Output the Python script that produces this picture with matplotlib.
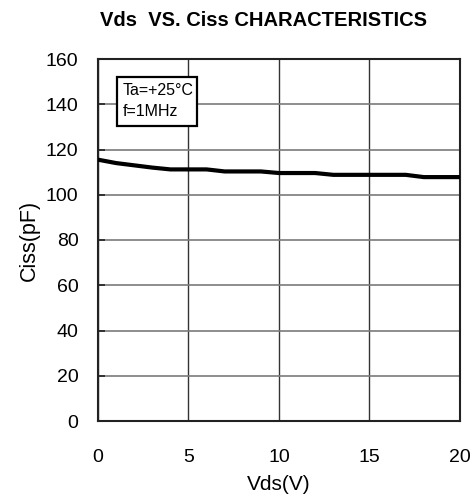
import matplotlib
matplotlib.use("Agg")
import matplotlib.pyplot as plt
from matplotlib.patches import Rectangle

# Ciss vs Vds
vds = [0, 1, 2, 3, 4, 5, 6, 7, 8, 9, 10, 11, 12, 13, 14, 15, 16, 17, 18, 19, 20]
ciss = [115.5, 114.0, 113.0, 112.0, 111.2, 111.2, 111.2, 110.3, 110.3, 110.3,
        109.6, 109.6, 109.6, 108.8, 108.8, 108.8, 108.8, 108.8, 107.8, 107.8, 107.8]

x_ticks = [0, 5, 10, 15, 20]
y_ticks = [0, 20, 40, 60, 80, 100, 120, 140, 160]

plt.rcParams["font.family"] = ["Liberation Sans", "DejaVu Sans"]

fig = plt.figure(figsize=(4.77, 4.97), dpi=100)
ax = fig.add_axes([98 / 477, 1 - 421 / 497, 362 / 477, 362 / 497])

ax.plot(vds, ciss, color="black", linewidth=3, zorder=3)

ax.set_xlim(0, 20)
ax.set_ylim(0, 160)
ax.set_xticks(x_ticks)
ax.set_yticks(y_ticks)
ax.tick_params(axis="x", labelsize=14, length=0, pad=20)
ax.tick_params(axis="y", labelsize=14, length=5, direction="in", width=1.2,
               color="#222222", pad=14)

# vertical grid dark, horizontal grid lighter grey
ax.xaxis.grid(True, color="#333333", linewidth=1.0)
ax.yaxis.grid(True, color="#7a7a7a", linewidth=1.2)
for spine in ax.spines.values():
    spine.set_linewidth(1.5)
    spine.set_color("#222222")

ax.set_xlabel("Vds(V)", fontsize=15, labelpad=7)
ax.set_ylabel("Ciss(pF)", fontsize=15.5, labelpad=4)

fig.text(264 / 477, 1 - 26 / 497, "Vds  VS. Ciss CHARACTERISTICS", fontsize=14.5,
         fontweight="bold", ha="center", va="baseline")

# condition box
ax.add_patch(Rectangle((0.052, 0.815), 0.221, 0.135, transform=ax.transAxes,
                       facecolor="white", edgecolor="black", linewidth=1.6, zorder=4))
ax.text(0.069, 0.912, "Ta=+25°C", transform=ax.transAxes, fontsize=11.5,
        va="center", ha="left", zorder=5)
ax.text(0.069, 0.856, "f=1MHz", transform=ax.transAxes, fontsize=11.5,
        va="center", ha="left", zorder=5)

fig.savefig("out.png", dpi=100)
